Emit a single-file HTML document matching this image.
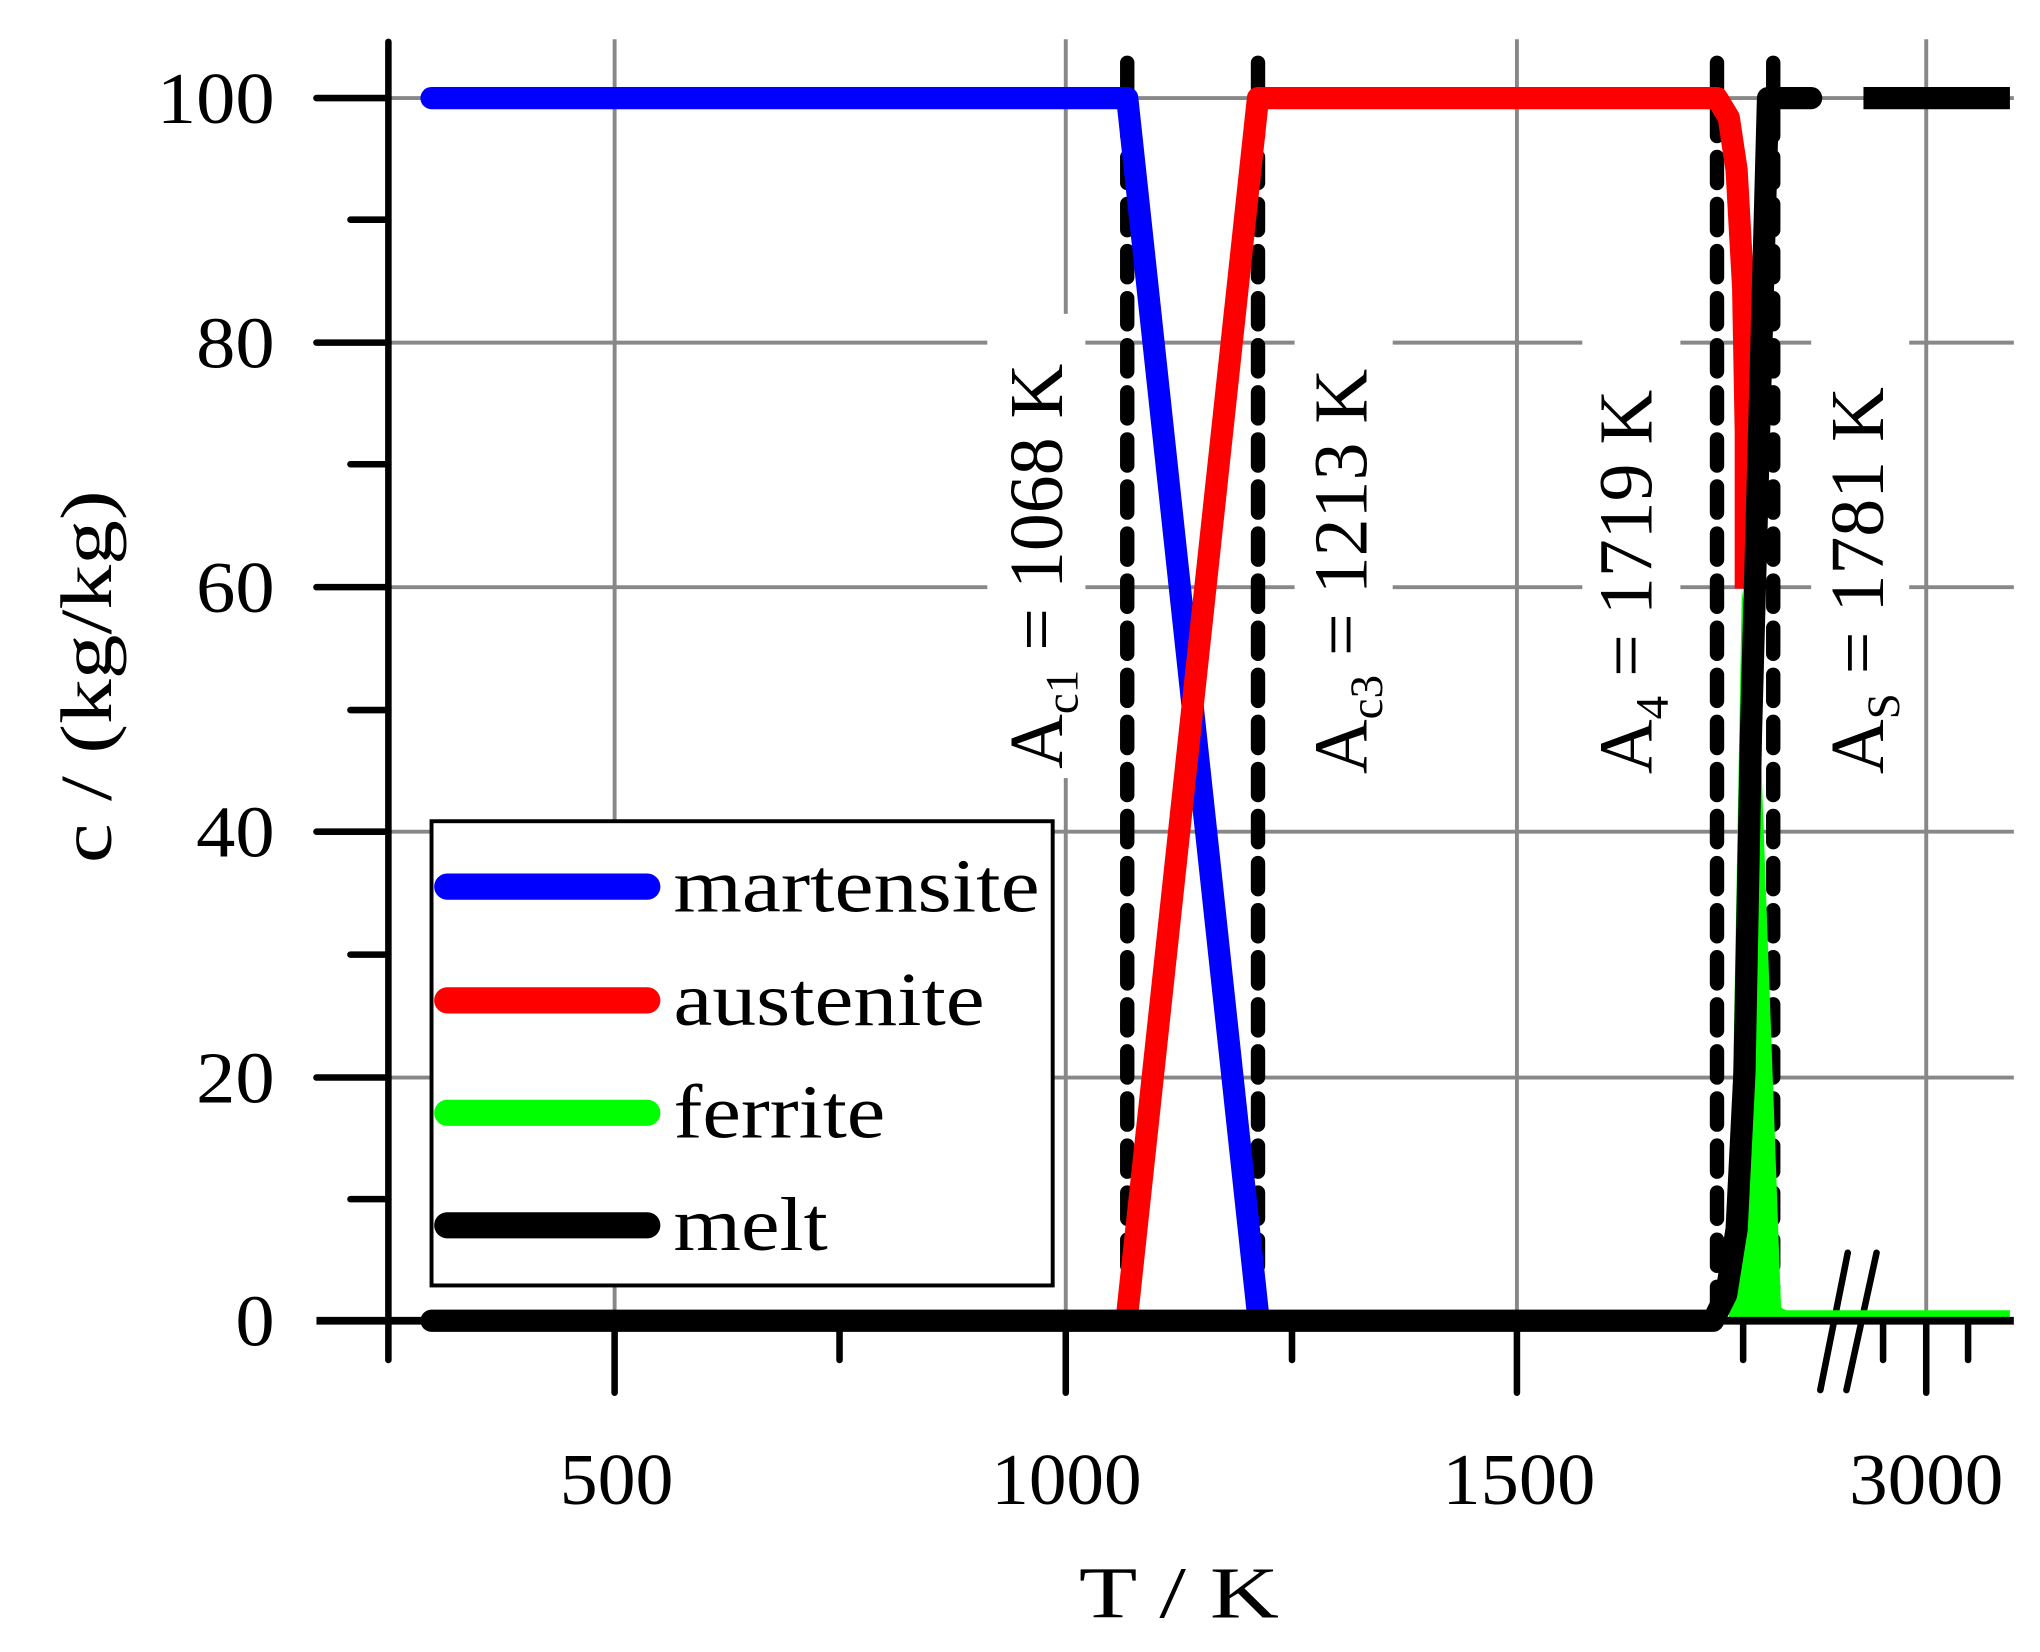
<!DOCTYPE html>
<html><head><meta charset="utf-8"><style>html,body{margin:0;padding:0;background:#fff}svg{display:block}</style></head><body>
<svg width="2040" height="1652" viewBox="0 0 1560 1263.3" preserveAspectRatio="none" xmlns="http://www.w3.org/2000/svg" font-family="'Liberation Serif', serif">
<g stroke="#888" stroke-width="3">
<line x1="297" y1="75" x2="1540" y2="75"/><line x1="297" y1="262" x2="1540" y2="262"/><line x1="297" y1="449" x2="1540" y2="449"/><line x1="297" y1="636" x2="1540" y2="636"/><line x1="297" y1="824" x2="1540" y2="824"/>
<line x1="470" y1="30" x2="470" y2="1010"/><line x1="815" y1="30" x2="815" y2="1010"/><line x1="1160" y1="30" x2="1160" y2="1010"/><line x1="1473" y1="30" x2="1473" y2="1010"/>
</g>
<g stroke="#000" stroke-width="5" stroke-linecap="round">
<line x1="297" y1="32" x2="297" y2="1040"/>
<line x1="242" y1="75" x2="297" y2="75"/><line x1="242" y1="262" x2="297" y2="262"/><line x1="242" y1="449" x2="297" y2="449"/><line x1="242" y1="636" x2="297" y2="636"/><line x1="242" y1="824" x2="297" y2="824"/>
<line x1="268" y1="168" x2="297" y2="168"/><line x1="268" y1="355" x2="297" y2="355"/><line x1="268" y1="543" x2="297" y2="543"/><line x1="268" y1="730" x2="297" y2="730"/><line x1="268" y1="917" x2="297" y2="917"/>
<line x1="470" y1="1010" x2="470" y2="1065"/><line x1="815" y1="1010" x2="815" y2="1065"/><line x1="1160" y1="1010" x2="1160" y2="1065"/><line x1="1473" y1="1010" x2="1473" y2="1065"/>
<line x1="642" y1="1010" x2="642" y2="1040"/><line x1="988" y1="1010" x2="988" y2="1040"/><line x1="1333" y1="1010" x2="1333" y2="1040"/><line x1="1440" y1="1010" x2="1440" y2="1040"/><line x1="1505" y1="1010" x2="1505" y2="1040"/>
<line x1="1392" y1="1063" x2="1413" y2="958"/><line x1="1412" y1="1063" x2="1435" y2="958"/>
</g>
<g font-size="56" fill="#000" text-anchor="end">
<text x="210" y="94" textLength="90" lengthAdjust="spacingAndGlyphs">100</text><text x="210" y="281" textLength="60" lengthAdjust="spacingAndGlyphs">80</text><text x="210" y="468" textLength="60" lengthAdjust="spacingAndGlyphs">60</text><text x="210" y="655" textLength="60" lengthAdjust="spacingAndGlyphs">40</text><text x="210" y="843" textLength="60" lengthAdjust="spacingAndGlyphs">20</text><text x="210" y="1029" textLength="30" lengthAdjust="spacingAndGlyphs">0</text>
</g>
<g font-size="56" fill="#000">
<text x="428" y="1150" textLength="87" lengthAdjust="spacingAndGlyphs">500</text><text x="758" y="1150" textLength="115" lengthAdjust="spacingAndGlyphs">1000</text><text x="1103" y="1150" textLength="117" lengthAdjust="spacingAndGlyphs">1500</text><text x="1414" y="1150" textLength="118" lengthAdjust="spacingAndGlyphs">3000</text>
<text x="825" y="1237" textLength="153" lengthAdjust="spacingAndGlyphs">T / K</text>
<text transform="translate(85,660) rotate(-90)" textLength="285" lengthAdjust="spacingAndGlyphs">c / (kg/kg)</text>
</g>
<g fill="#fff"><rect x="755" y="240" width="75" height="355"/><rect x="990" y="240" width="75" height="355"/><rect x="1210" y="240" width="75" height="355"/><rect x="1385" y="240" width="75" height="355"/></g>
<g font-size="58" fill="#000">
<text transform="translate(812,588) rotate(-90)">A<tspan font-size="36" dy="12">c1</tspan><tspan dy="-12"> = 1068 K</tspan></text>
<text transform="translate(1045,592) rotate(-90)">A<tspan font-size="36" dy="12">c3</tspan><tspan dy="-12"> = 1213 K</tspan></text>
<text transform="translate(1263,592) rotate(-90)">A<tspan font-size="36" dy="12">4</tspan><tspan dy="-12"> = 1719 K</tspan></text>
<text transform="translate(1440,592) rotate(-90)">A<tspan font-size="36" dy="12">S</tspan><tspan dy="-12"> = 1781 K</tspan></text>
</g>
<g stroke="#000" stroke-width="11" stroke-dasharray="20,16" stroke-linecap="round">
<line x1="862" y1="48" x2="862" y2="1005"/><line x1="962" y1="48" x2="962" y2="1005"/><line x1="1313" y1="48" x2="1313" y2="1005"/><line x1="1356" y1="48" x2="1356" y2="1005"/>
</g>
<path d="M1322,1008 L1332,450 L1346,560 L1362,1000 L1366,1002 L1537,1002 L1537,1012 L1322,1012 Z" fill="#0f0"/>
<g fill="none" stroke-width="17" stroke-linejoin="round">
<path d="M330,75 L862,75 L962,1005" stroke="#00f" stroke-linecap="round"/>
<path d="M862,1005 L962,75 L1313,75 L1322,90 L1328,130 L1333,220 L1335,330 L1335,450" stroke="#f00"/>
<path d="M330,1010 L1310,1010 L1320,990 L1328,940 L1334,820 L1339,560 L1346,300 L1352,75 L1385,75" stroke="#000" stroke-linecap="round"/>
<line x1="1425" y1="75" x2="1537" y2="75" stroke="#000"/>
</g>
<line x1="242" y1="1010" x2="1540" y2="1010" stroke="#000" stroke-width="6"/>
<rect x="330" y="628" width="475" height="355" fill="#fff" stroke="#000" stroke-width="3"/>
<g stroke-width="20" stroke-linecap="round">
<line x1="342" y1="678" x2="495" y2="678" stroke="#00f"/><line x1="342" y1="765" x2="495" y2="765" stroke="#f00"/><line x1="342" y1="851" x2="495" y2="851" stroke="#0f0"/><line x1="342" y1="937" x2="495" y2="937" stroke="#000"/>
</g>
<g font-size="58" fill="#000">
<text x="515" y="697" textLength="280" lengthAdjust="spacingAndGlyphs">martensite</text><text x="515" y="784" textLength="238" lengthAdjust="spacingAndGlyphs">austenite</text><text x="515" y="870" textLength="162" lengthAdjust="spacingAndGlyphs">ferrite</text><text x="515" y="956" textLength="118" lengthAdjust="spacingAndGlyphs">melt</text>
</g>
</svg>
</body></html>
